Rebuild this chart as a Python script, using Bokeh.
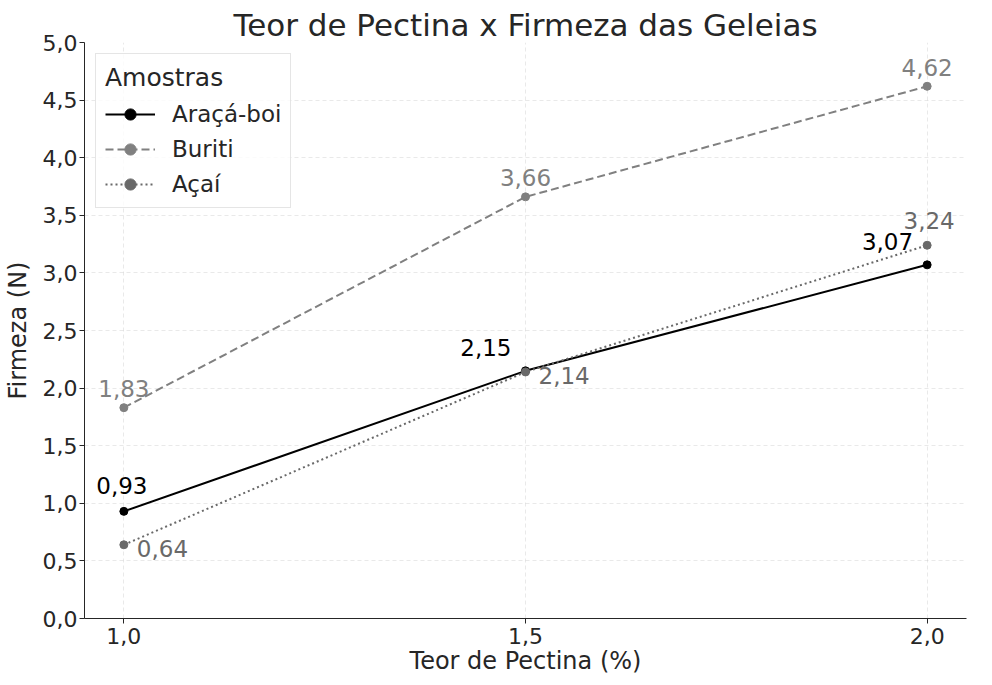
from bokeh.plotting import figure
from bokeh.models import (FixedTicker, CustomJSTickFormatter, Range1d, Legend, LegendItem, Label)
from bokeh.embed import file_html
from bokeh.resources import INLINE

# data
pectina = [1.0, 1.5, 2.0]
araca_boi = [0.93, 2.15, 3.07]
buriti = [1.83, 3.66, 4.62]
acai = [0.64, 2.14, 3.24]
x_ticks = [1.0, 1.5, 2.0]
y_ticks = [0.0, 0.5, 1.0, 1.5, 2.0, 2.5, 3.0, 3.5, 4.0, 4.5, 5.0]

FONT = "DejaVu Sans"
TXT = "#262626"

p = figure(width=976, height=677, output_backend="svg", toolbar_location=None,
           x_range=Range1d(0.951, 2.049), y_range=Range1d(0, 5.0),
           min_border_left=82, min_border_right=10, min_border_top=42, min_border_bottom=0)

p.title.text = "Teor de Pectina x Firmeza das Geleias"
p.title.text_font = FONT
p.title.text_font_size = "31px"
p.title.text_font_style = "normal"
p.title.text_color = TXT
p.title.align = "center"
p.title.standoff = 0

fmt = CustomJSTickFormatter(code="return tick.toFixed(1).replace('.', ',');")
p.xaxis.ticker = FixedTicker(ticks=x_ticks)
p.yaxis.ticker = FixedTicker(ticks=y_ticks)
p.xaxis.formatter = fmt
p.yaxis.formatter = fmt
p.xaxis.axis_label = "Teor de Pectina (%)"
p.yaxis.axis_label = "Firmeza (N)"
for ax in (p.xaxis, p.yaxis):
    ax.axis_label_text_font = FONT
    ax.axis_label_text_font_size = "24px"
    ax.axis_label_text_font_style = "normal"
    ax.axis_label_text_color = TXT
    ax.major_label_text_font = FONT
    ax.major_label_text_font_size = "22px"
    ax.major_label_text_color = TXT
    ax.axis_line_color = TXT
    ax.major_tick_line_color = TXT
    ax.major_tick_out = 5
    ax.major_tick_in = 0
    ax.minor_tick_line_color = None
p.xaxis.major_label_standoff = 4
p.xaxis.axis_label_standoff = 0
p.yaxis.major_label_standoff = 2
p.yaxis.axis_label_standoff = 8

p.grid.grid_line_color = "#b0b0b0"
p.grid.grid_line_alpha = 0.28
p.grid.grid_line_dash = "4 3"
p.grid.grid_line_width = 1
p.xgrid.ticker = FixedTicker(ticks=x_ticks)
p.ygrid.ticker = FixedTicker(ticks=y_ticks)
p.outline_line_color = None

l1 = p.line(pectina, araca_boi, line_color="black", line_width=2)
s1 = p.scatter(pectina, araca_boi, size=8, color="black")
l2 = p.line(pectina, buriti, line_color="#808080", line_width=2, line_dash="8 4")
s2 = p.scatter(pectina, buriti, size=8, color="#808080")
l3 = p.line(pectina, acai, line_color="#696969", line_width=2, line_dash="2 3")
s3 = p.scatter(pectina, acai, size=8, color="#696969")

# label placement per point: (x_offset, y_offset, align)
araca_pos = [(-2, 26, "center"), (-14, 23, "right"), (-14, 23, "right")]
buriti_pos = [(0, 19, "center"), (0, 19, "center"), (0, 19, "center")]
acai_pos = [(13, -4, "left"), (13, -4, "left"), (2, 25, "center")]

def add_labels(vals, color, positions):
    for xv, yv, (xo, yo, al) in zip(pectina, vals, positions):
        p.add_layout(Label(x=xv, y=yv, text=f"{yv:.2f}".replace(".", ","),
                           x_offset=xo, y_offset=yo, text_align=al,
                           text_baseline="middle", text_font=FONT,
                           text_font_size="23px", text_color=color))

add_labels(araca_boi, "black", araca_pos)
add_labels(buriti, "#808080", buriti_pos)
add_labels(acai, "#696969", acai_pos)

legend = Legend(items=[
    LegendItem(label="Araçá-boi", renderers=[l1, s1]),
    LegendItem(label="Buriti", renderers=[l2, s2]),
    LegendItem(label="Açaí", renderers=[l3, s3]),
], location="top_left")
legend.title = "Amostras"
legend.title_text_font = FONT
legend.title_text_font_size = "25px"
legend.title_text_font_style = "normal"
legend.title_text_color = TXT
legend.title_standoff = 8
legend.label_text_font = FONT
legend.label_text_font_size = "23px"
legend.label_text_color = TXT
legend.glyph_width = 50
legend.glyph_height = 28
legend.label_height = 28
legend.spacing = 7
legend.label_standoff = 17
legend.margin = 11
legend.padding = 9
legend.border_line_color = "#cccccc"
legend.border_line_width = 1
legend.background_fill_alpha = 0.8
p.add_layout(legend)

open("out.html", "w").write(file_html(p, INLINE))
